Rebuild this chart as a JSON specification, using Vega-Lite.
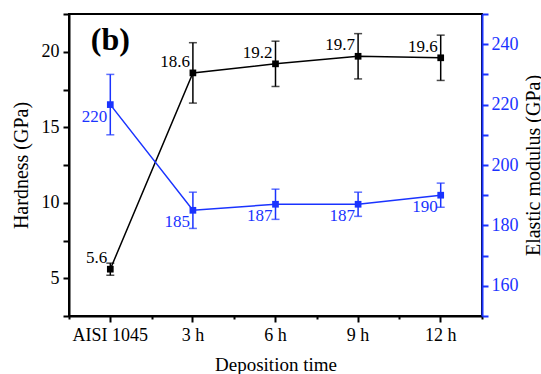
{
  "$schema": "https://vega.github.io/schema/vega-lite/v6.json",
  "width": 413,
  "height": 302,
  "autosize": {"type": "none"},
  "padding": {"left": 69, "top": 14, "right": 59, "bottom": 58},
  "background": "white",
  "config": {
    "view": {"stroke": "black", "strokeWidth": 2},
    "font": "Liberation Serif",
    "axis": {
      "grid": false,
      "labelFont": "Liberation Serif",
      "titleFont": "Liberation Serif",
      "labelFontSize": 18,
      "titleFontSize": 20,
      "titleFontWeight": "normal",
      "labelColor": "black",
      "titleColor": "black",
      "tickColor": "black",
      "domainColor": "black",
      "tickWidth": 2,
      "domainWidth": 2,
      "labelOverlap": false
    }
  },
  "data": {
    "values": [
      {"time": "AISI 1045", "H": 5.6, "Hlo": 5.2, "Hhi": 6.0, "E": 220, "Elo": 210, "Ehi": 230},
      {"time": "3 h", "H": 18.6, "Hlo": 16.6, "Hhi": 20.6, "E": 185, "Elo": 179, "Ehi": 191},
      {"time": "6 h", "H": 19.2, "Hlo": 17.7, "Hhi": 20.7, "E": 187, "Elo": 182, "Ehi": 192},
      {"time": "9 h", "H": 19.7, "Hlo": 18.2, "Hhi": 21.2, "E": 187, "Elo": 183, "Ehi": 191},
      {"time": "12 h", "H": 19.6, "Hlo": 18.1, "Hhi": 21.1, "E": 190, "Elo": 186, "Ehi": 194}
    ]
  },
  "layer": [
    {
      "encoding": {
        "x": {
          "field": "time", "type": "nominal", "sort": null, "bandPosition": 0.5,
          "scale": {"type": "band", "paddingInner": 0, "paddingOuter": 0, "domain": ["AISI 1045", "3 h", "6 h", "9 h", "12 h"]},
          "axis": {
            "orient": "bottom", "title": "Deposition time", "labelAngle": 0,
            "labelFont": "Liberation Serif", "titleFont": "Liberation Serif",
            "tickSize": 6, "labelPadding": 4, "titlePadding": 11, "titleFontSize": 19
          }
        }
      },
      "layer": [
        {
          "mark": {"type": "line", "color": "black", "strokeWidth": 1.5},
          "encoding": {
            "y": {
              "field": "H", "type": "quantitative",
              "scale": {"domain": [2.5, 22.5], "nice": false, "zero": false},
              "axis": {
                "orient": "left", "title": "Hardness (GPa)",
                "labelFont": "Liberation Serif", "titleFont": "Liberation Serif",
                "values": [2.5, 5, 7.5, 10, 12.5, 15, 17.5, 20, 22.5],
                "tickCount": 30,
                "format": "d",
                "labelExpr": "datum.value % 5 === 0 ? datum.label : ''",
                "labelOverlap": false,
                "tickSize": 6, "labelPadding": 4, "titlePadding": 10,
                "encode": {"ticks": {"update": {"x2": {"signal": "datum.value % 5 === 0 ? -6 : -3"}}}}
              }
            }
          }
        },
        {
          "mark": {"type": "errorbar", "color": "black", "thickness": 1.5, "ticks": {"size": 8, "thickness": 1.5, "color": "black"}},
          "encoding": {
            "y": {"field": "Hlo", "type": "quantitative", "scale": {"domain": [2.5, 22.5], "nice": false, "zero": false}, "title": "Hardness (GPa)"},
            "y2": {"field": "Hhi"}
          }
        },
        {
          "mark": {"type": "point", "shape": "square", "filled": true, "size": 45, "color": "black", "opacity": 1},
          "encoding": {
            "y": {"field": "H", "type": "quantitative", "scale": {"domain": [2.5, 22.5], "nice": false, "zero": false}, "title": "Hardness (GPa)"}
          }
        },
        {
          "mark": {"type": "text", "align": "right", "baseline": "middle", "dx": -3, "dy": -11, "fontSize": 17, "font": "Liberation Serif", "color": "black"},
          "encoding": {
            "y": {"field": "H", "type": "quantitative", "scale": {"domain": [2.5, 22.5], "nice": false, "zero": false}, "title": "Hardness (GPa)"},
            "text": {"field": "H", "type": "quantitative", "format": ".1f"}
          }
        },
        {
          "data": {"values": [{"time": "AISI 1045", "H": 20.8, "tag": "(b)"}]},
          "mark": {"type": "text", "align": "center", "baseline": "middle", "fontSize": 32, "fontWeight": "bold", "font": "Liberation Serif", "color": "black"},
          "encoding": {
            "y": {"field": "H", "type": "quantitative", "scale": {"domain": [2.5, 22.5], "nice": false, "zero": false}, "title": "Hardness (GPa)"},
            "text": {"field": "tag"}
          }
        }
      ]
    },
    {
      "encoding": {
        "x": {
          "field": "time", "type": "nominal", "sort": null, "bandPosition": 0.5,
          "scale": {"type": "band", "paddingInner": 0, "paddingOuter": 0, "domain": ["AISI 1045", "3 h", "6 h", "9 h", "12 h"]},
          "axis": {
            "orient": "bottom", "title": null, "labels": false, "domain": false,
            "tickBand": "extent", "tickSize": 3
          }
        }
      },
      "layer": [
        {
          "mark": {"type": "line", "color": "#1a33ff", "strokeWidth": 1.5},
          "encoding": {
            "y": {
              "field": "E", "type": "quantitative",
              "scale": {"domain": [150, 250], "nice": false, "zero": false},
              "axis": {
                "orient": "right", "title": "Elastic modulus (GPa)",
                "labelFont": "Liberation Serif", "titleFont": "Liberation Serif",
                "values": [150, 160, 170, 180, 190, 200, 210, 220, 230, 240, 250],
                "tickCount": 30,
                "format": "d",
                "labelExpr": "datum.value % 20 === 0 ? datum.label : ''",
                "labelOverlap": false,
                "tickSize": 6, "labelPadding": 3, "titlePadding": 5,
                "titleAngle": 270, "titleBaseline": "top",
                "domainColor": "#1a33ff", "tickColor": "#1a33ff", "labelColor": "#1a33ff", "titleColor": "black",
                "encode": {"ticks": {"update": {"x2": {"signal": "datum.value % 20 === 0 ? 6 : 3"}}}}
              }
            }
          }
        },
        {
          "mark": {"type": "errorbar", "color": "#1a33ff", "thickness": 1.5, "ticks": {"size": 8, "thickness": 1.5, "color": "#1a33ff"}},
          "encoding": {
            "y": {"field": "Elo", "type": "quantitative", "scale": {"domain": [150, 250], "nice": false, "zero": false}, "title": "Elastic modulus (GPa)"},
            "y2": {"field": "Ehi"}
          }
        },
        {
          "mark": {"type": "point", "shape": "square", "filled": true, "size": 45, "color": "#1a33ff", "opacity": 1},
          "encoding": {
            "y": {"field": "E", "type": "quantitative", "scale": {"domain": [150, 250], "nice": false, "zero": false}, "title": "Elastic modulus (GPa)"}
          }
        },
        {
          "mark": {"type": "text", "align": "right", "baseline": "middle", "dx": -3, "dy": 12, "fontSize": 17, "font": "Liberation Serif", "color": "#1a33ff"},
          "encoding": {
            "y": {"field": "E", "type": "quantitative", "scale": {"domain": [150, 250], "nice": false, "zero": false}, "title": "Elastic modulus (GPa)"},
            "text": {"field": "E", "type": "quantitative", "format": "d"}
          }
        }
      ]
    }
  ],
  "resolve": {"scale": {"y": "independent"}, "axis": {"x": "independent", "y": "independent"}}
}
